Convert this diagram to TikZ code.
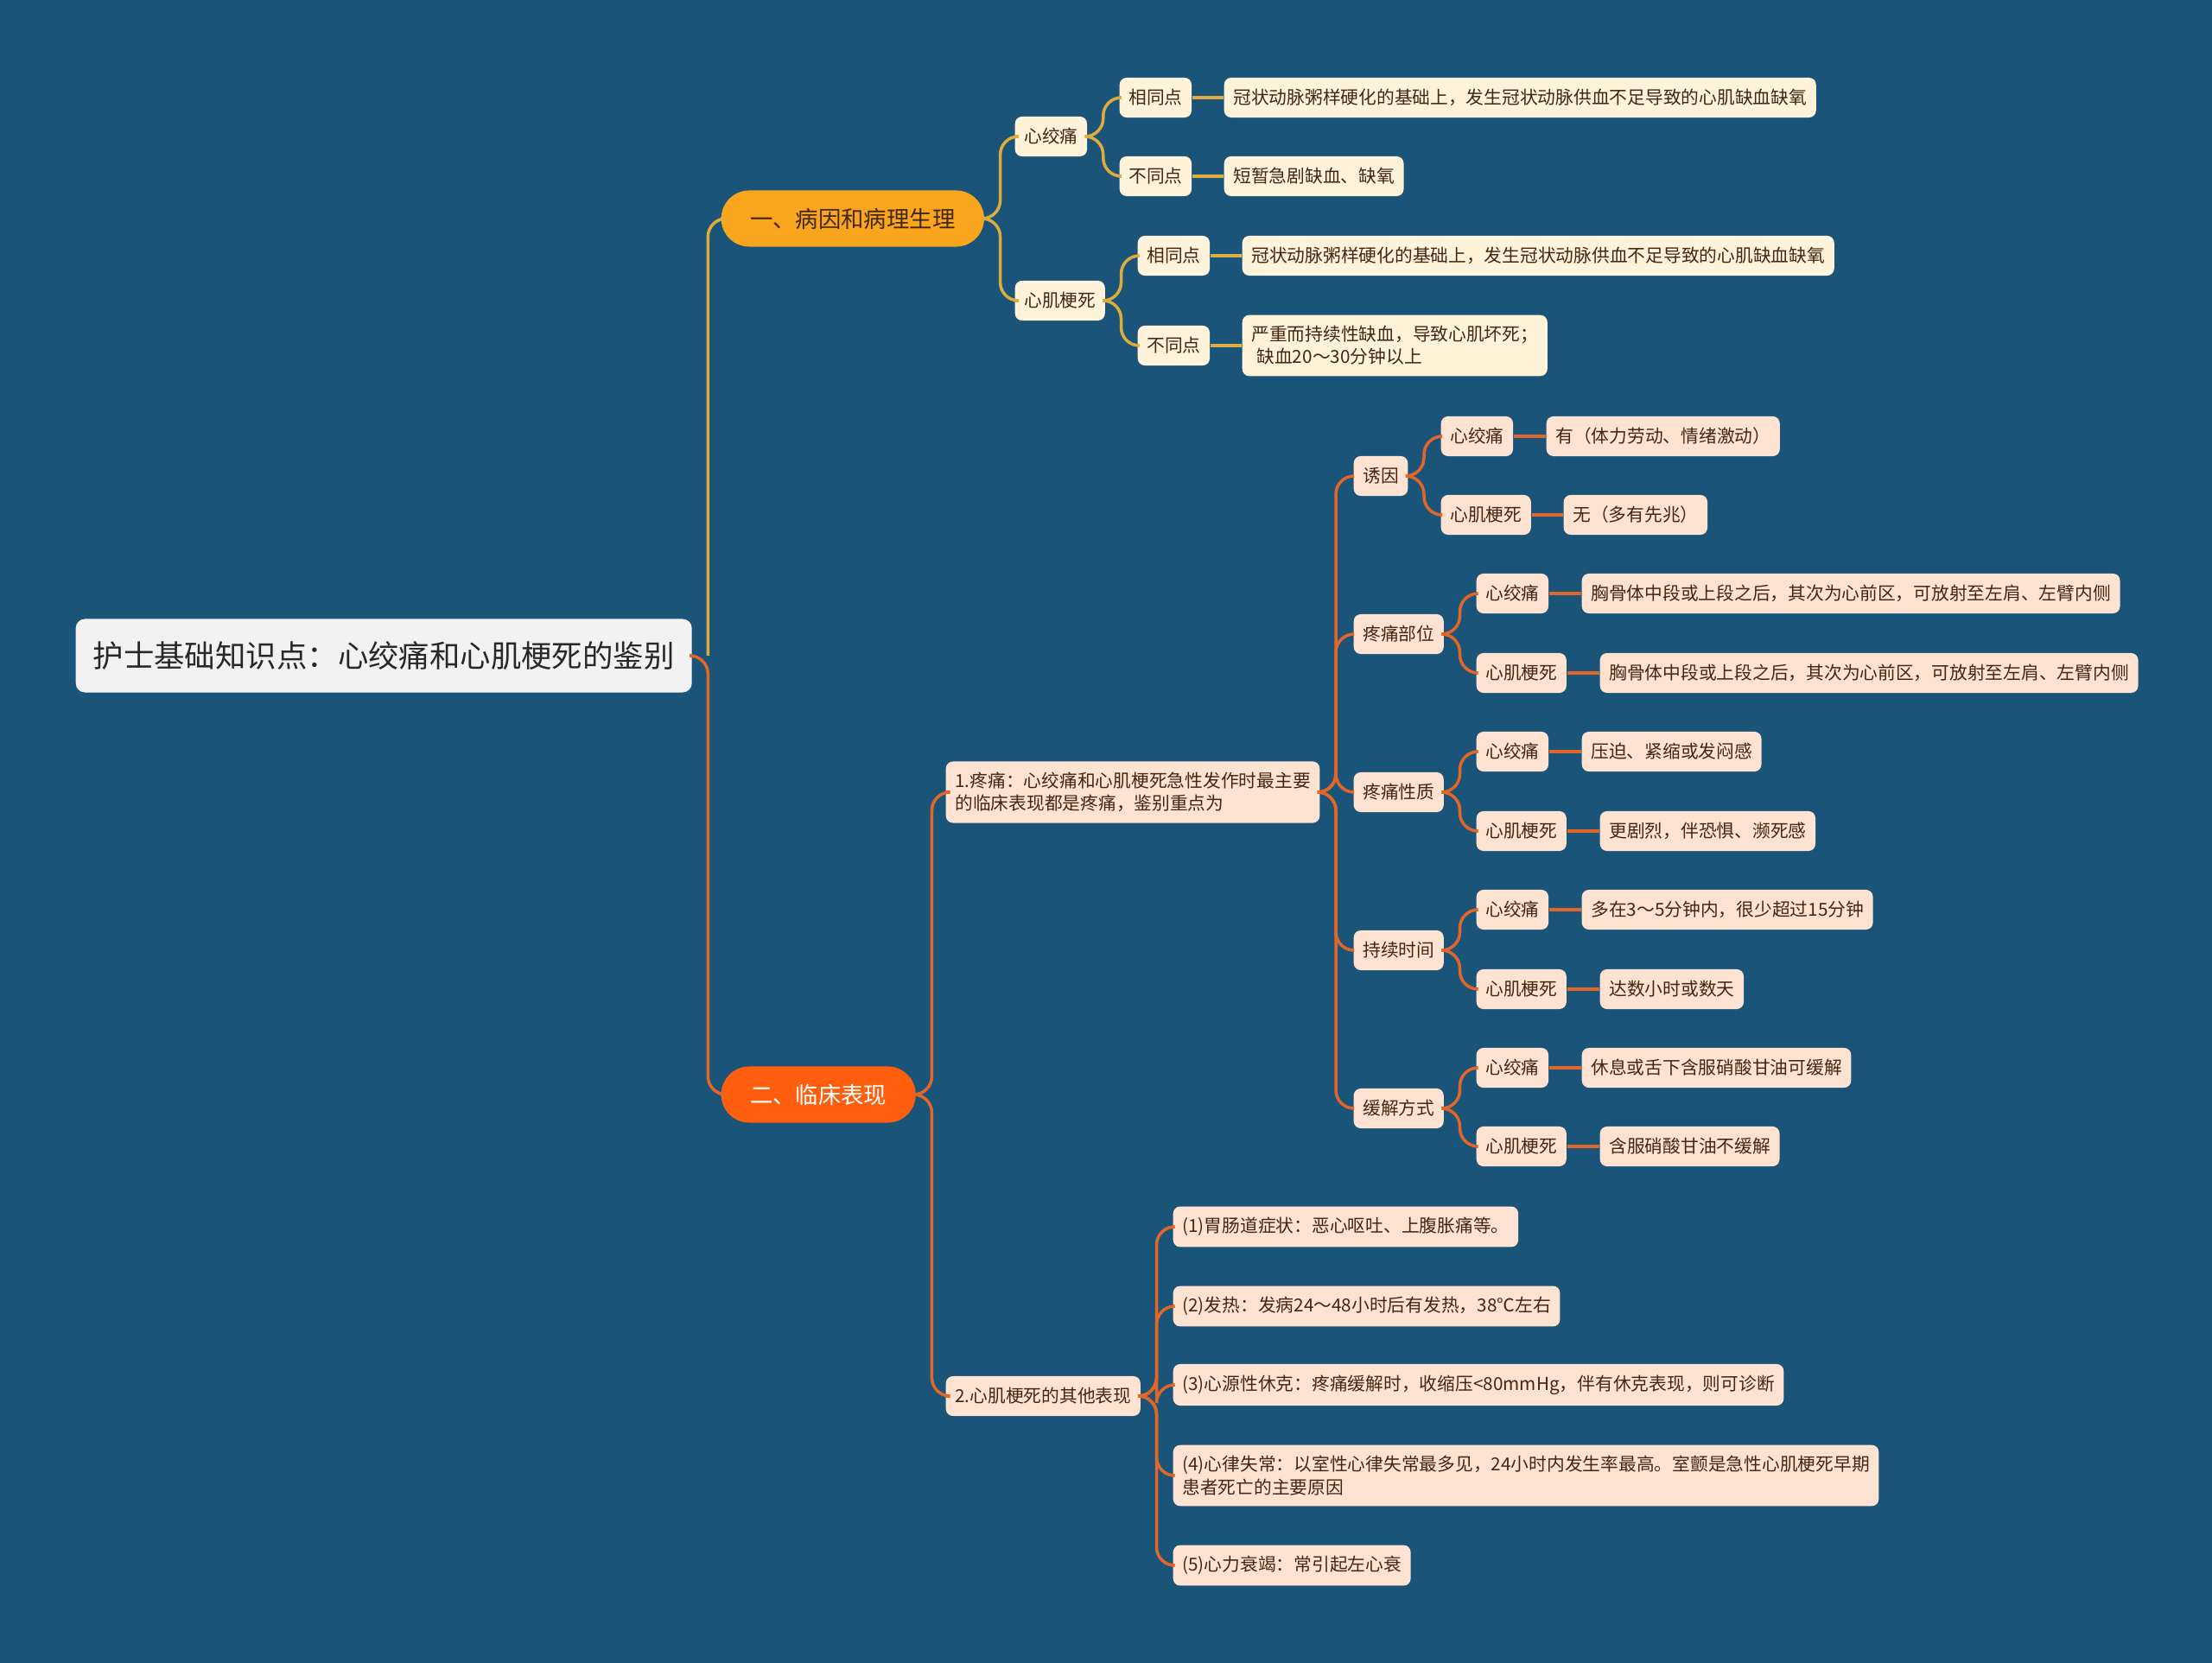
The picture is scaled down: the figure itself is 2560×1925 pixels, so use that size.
\documentclass[tikz,border=0pt]{standalone}
\usepackage{fontspec}
\setmainfont{Noto Sans CJK SC}
\definecolor{bgblue}{RGB}{26,84,120}
\definecolor{rootgray}{RGB}{242,242,242}
\definecolor{gold}{RGB}{249,165,30}
\definecolor{goldline}{RGB}{222,172,62}
\definecolor{redorg}{RGB}{255,94,14}
\definecolor{orgline}{RGB}{226,102,40}
\definecolor{cream}{RGB}{255,243,218}
\definecolor{peach}{RGB}{255,227,210}
\definecolor{brn}{RGB}{66,40,20}
\begin{document}
\begin{tikzpicture}[x=0.01cm,y=-0.01cm]
	\tikzstyle{every node}=[font=\fontsize{5.9pt}{7.4pt}\selectfont]
	\tikzstyle{cbox}=[fill=cream, text=brn, rounded corners=2.3pt, inner xsep=3pt, inner ysep=3.6pt, minimum height=0.46cm, anchor=west, align=left]
	\tikzstyle{pbox}=[cbox, fill=peach]
	\tikzstyle{glink}=[draw=goldline, line width=1pt, rounded corners=6pt]
	\tikzstyle{olink}=[draw=orgline, line width=1pt, rounded corners=6pt]
	\fill [bgblue] (0,0) rectangle (2560,1925);
	\useasboundingbox (0,0) rectangle (2560,1925);
	% root and the two main branches
	\node (root) [fill=rootgray, text={rgb,255:red,40; green,40; blue,40}, rounded corners=3pt, inner xsep=5.7pt, minimum height=0.85cm, anchor=west, font=\fontsize{10.07pt}{12pt}\selectfont] at (87,759) {护士基础知识点：心绞痛和心肌梗死的鉴别};
	\node (bingyin) [fill=gold, text=brn, rounded corners=9.2pt, inner xsep=9.5pt, minimum height=0.65cm, anchor=west, font=\fontsize{7.5pt}{9pt}\selectfont] at (834,253) {一、病因和病理生理};
	\node (linchuang) [fill=redorg, text=white, rounded corners=9.2pt, inner xsep=9.5pt, minimum height=0.65cm, anchor=west, font=\fontsize{7.5pt}{9pt}\selectfont] at (834,1267) {二、临床表现};
	\draw [olink] (root.east) -- ++(18,0) |- (linchuang.west);
	\draw [glink] (root.east) ++(18,0) |- (bingyin.west);
	% branch one
	\node (xjt) [cbox] at (1174,158) {心绞痛};
	\node (xjgs) [cbox] at (1174,348) {心肌梗死};
	\node (xjtsame) [cbox] at (1295,113) {相同点};
	\node (xjtdiff) [cbox] at (1295,204) {不同点};
	\node (xjtsamet) [cbox] at (1416,113) {冠状动脉粥样硬化的基础上，发生冠状动脉供血不足导致的心肌缺血缺氧};
	\node (xjtdifft) [cbox] at (1416,204) {短暂急剧缺血、缺氧};
	\node (xjgssame) [cbox] at (1316,296) {相同点};
	\node (xjgsdiff) [cbox] at (1316,400) {不同点};
	\node (xjgssamet) [cbox] at (1437,296) {冠状动脉粥样硬化的基础上，发生冠状动脉供血不足导致的心肌缺血缺氧};
	\node (xjgsdifft) [cbox] at (1437,400) {严重而持续性缺血，导致心肌坏死；\\\hspace*{0.3em}缺血20～30分钟以上};
	\draw [glink] (bingyin.east) -- ++(18,0) |- (xjt.west);
	\draw [glink] (bingyin.east) -- ++(18,0) |- (xjgs.west);
	\draw [glink] (xjt.east) -- ++(18,0) |- (xjtsame.west);
	\draw [glink] (xjt.east) -- ++(18,0) |- (xjtdiff.west);
	\draw [glink] (xjgs.east) -- ++(18,0) |- (xjgssame.west);
	\draw [glink] (xjgs.east) -- ++(18,0) |- (xjgsdiff.west);
	\draw [glink] (xjtsame) -- (xjtsamet);
	\draw [glink] (xjtdiff) -- (xjtdifft);
	\draw [glink] (xjgssame) -- (xjgssamet);
	\draw [glink] (xjgsdiff.east) -- (xjgsdifft.west);
	% branch two
	\node (tengtong) [pbox] at (1094,917) {1.疼痛：心绞痛和心肌梗死急性发作时最主要\\的临床表现都是疼痛，鉴别重点为};
	\node (qita) [pbox] at (1094,1616) {2.心肌梗死的其他表现};
	\draw [olink] (linchuang.east) -- ++(18,0) |- (tengtong.west);
	\draw [olink] (linchuang.east) -- ++(18,0) |- (qita.west);
	\node (youyin) [pbox] at (1566,551) {诱因};
	\node (buwei) [pbox] at (1566,734) {疼痛部位};
	\node (xingzhi) [pbox] at (1566,917) {疼痛性质};
	\node (shijian) [pbox] at (1566,1100) {持续时间};
	\node (huanjie) [pbox] at (1566,1283) {缓解方式};
	\foreach \k in {youyin,buwei,xingzhi,shijian,huanjie}
		\draw [olink] (tengtong.east) -- ++(18,0) |- (\k.west);
	\node (yyxjt) [pbox] at (1667,505) {心绞痛};
	\node (yyxjgs) [pbox] at (1667,596) {心肌梗死};
	\node (yyxjtt) [pbox] at (1789,505) {有（体力劳动、情绪激动）};
	\node (yyxjgst) [pbox] at (1809,596) {无（多有先兆）};
	\node (bwxjt) [pbox] at (1708,687) {心绞痛};
	\node (bwxjgs) [pbox] at (1708,779) {心肌梗死};
	\node (bwxjtt) [pbox] at (1830,687) {胸骨体中段或上段之后，其次为心前区，可放射至左肩、左臂内侧};
	\node (bwxjgst) [pbox] at (1851,779) {胸骨体中段或上段之后，其次为心前区，可放射至左肩、左臂内侧};
	\node (xzxjt) [pbox] at (1708,870) {心绞痛};
	\node (xzxjgs) [pbox] at (1708,962) {心肌梗死};
	\node (xzxjtt) [pbox] at (1830,870) {压迫、紧缩或发闷感};
	\node (xzxjgst) [pbox] at (1851,962) {更剧烈，伴恐惧、濒死感};
	\node (sjxjt) [pbox] at (1708,1053) {心绞痛};
	\node (sjxjgs) [pbox] at (1708,1145) {心肌梗死};
	\node (sjxjtt) [pbox] at (1830,1053) {多在3～5分钟内，很少超过15分钟};
	\node (sjxjgst) [pbox] at (1851,1145) {达数小时或数天};
	\node (hjxjt) [pbox] at (1708,1236) {心绞痛};
	\node (hjxjgs) [pbox] at (1708,1327) {心肌梗死};
	\node (hjxjtt) [pbox] at (1830,1236) {休息或舌下含服硝酸甘油可缓解};
	\node (hjxjgst) [pbox] at (1851,1327) {含服硝酸甘油不缓解};
	\foreach \p/\q in {youyin/yy,buwei/bw,xingzhi/xz,shijian/sj,huanjie/hj} {
		\draw [olink] (\p.east) -- ++(18,0) |- (\q xjt.west);
		\draw [olink] (\p.east) -- ++(18,0) |- (\q xjgs.west);
		\draw [olink] (\q xjt) -- (\q xjtt);
		\draw [olink] (\q xjgs) -- (\q xjgst);
	}
	\node (qt1) [pbox] at (1357,1420) {(1)胃肠道症状：恶心呕吐、上腹胀痛等。};
	\node (qt2) [pbox] at (1357,1512) {(2)发热：发病24～48小时后有发热，38℃左右};
	\node (qt3) [pbox] at (1357,1603) {(3)心源性休克：疼痛缓解时，收缩压<80mmHg，伴有休克表现，则可诊断};
	\node (qt4) [pbox] at (1357,1708) {(4)心律失常：以室性心律失常最多见，24小时内发生率最高。室颤是急性心肌梗死早期\\患者死亡的主要原因};
	\node (qt5) [pbox] at (1357,1812) {(5)心力衰竭：常引起左心衰};
	\foreach \k in {qt1,qt2,qt3,qt4,qt5}
		\draw [olink] (qita.east) -- ++(18,0) |- (\k.west);
\end{tikzpicture}
\end{document}
